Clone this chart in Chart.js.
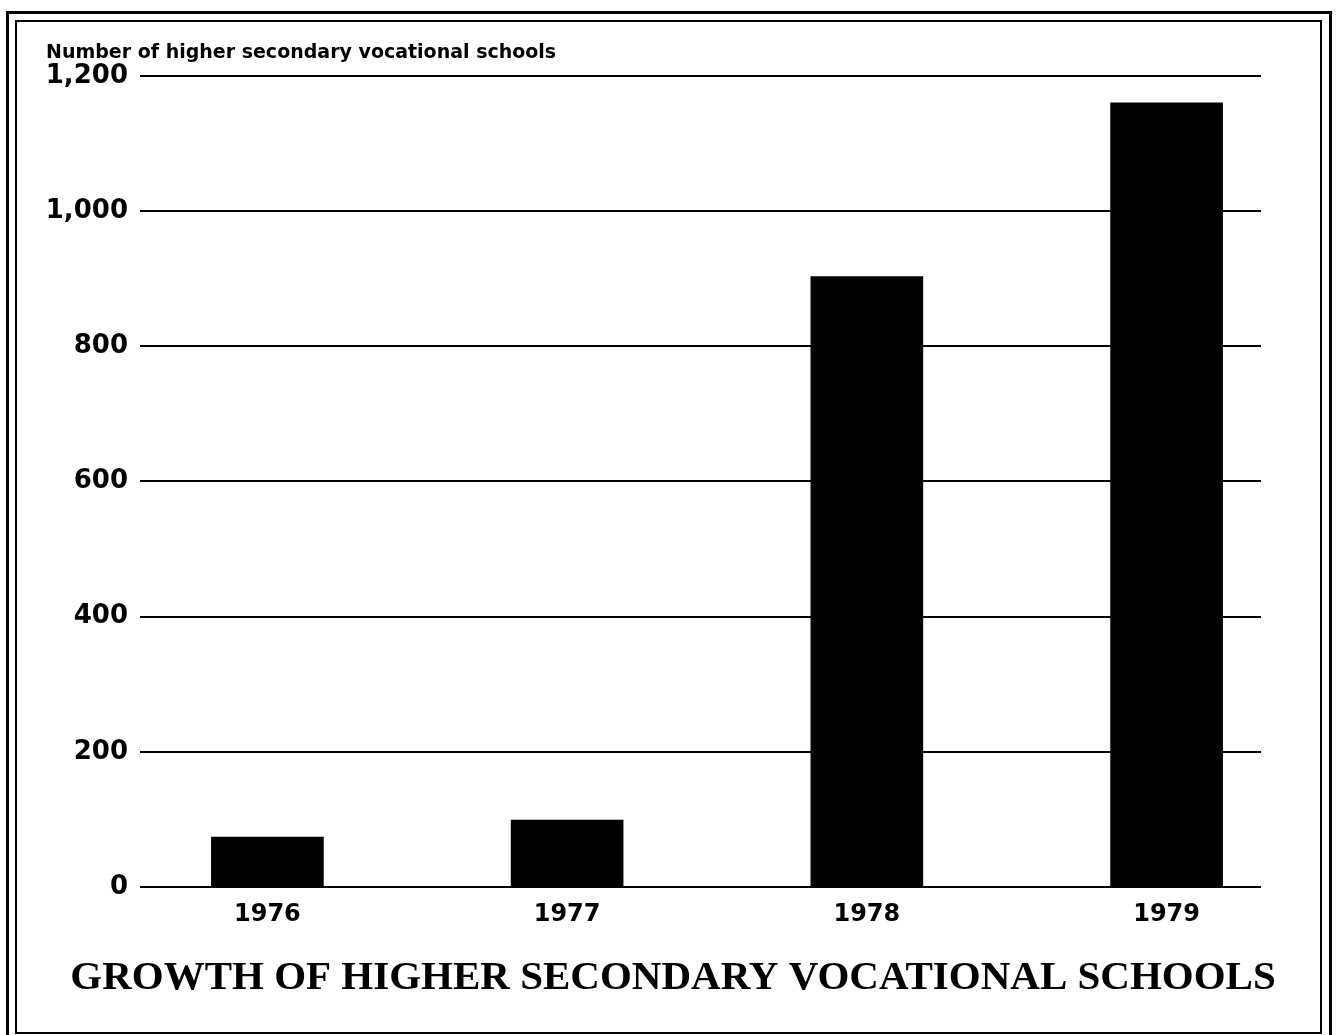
<!DOCTYPE html>
<html>
<head>
<meta charset="utf-8">
<script src="https://cdn.jsdelivr.net/npm/chart.js@4.4.1/dist/chart.umd.min.js"></script>
<style>
    html, body { margin: 0; padding: 0; background: #fff; }
    #wrap { position: relative; width: 1336px; height: 1035px; overflow: hidden; }
    .frame { position: absolute; border-style: solid; border-color: #000; box-sizing: border-box; }
    #outer { left: 6px; top: 11px; width: 1326px; height: 1040px; border-width: 3px; }
    #inner { left: 15px; top: 20px; width: 1307px; height: 1014px; border-width: 2px; }
    canvas { position: absolute; left: 0; top: 0; }
</style>
</head>
<body>
<div id="wrap">
    <div class="frame" id="outer"></div>
    <div class="frame" id="inner"></div>
    <canvas id="schoolsChart" width="1336" height="1035"></canvas>
</div>
<script>
// data
const years = [1976, 1977, 1978, 1979];
const schools = [74, 99, 903, 1160];
const yTicks = [0, 200, 400, 600, 800, 1000, 1200];

const axisLabel = "Number of higher secondary vocational schools";
const chartTitle = "GROWTH OF HIGHER SECONDARY VOCATIONAL SCHOOLS";

document.addEventListener("DOMContentLoaded", function () {
    let ctx = document.getElementById("schoolsChart").getContext("2d");

    new Chart(ctx, {
        type: "bar",
        data: {
            datasets: [{
                label: "Schools",
                data: years.map((yr, i) => ({ x: yr, y: schools[i] })),
                backgroundColor: "#000",
                borderWidth: 0,
                barThickness: 112
            }]
        },
        options: {
            responsive: false,
            animation: false,
            layout: {
                padding: { left: 46, right: 36, top: 20, bottom: 20 }
            },
            plugins: {
                legend: { display: false },
                tooltip: { enabled: false },
                subtitle: {
                    display: true,
                    text: axisLabel,
                    position: "top",
                    align: "start",
                    color: "#000",
                    font: { family: "DejaVu Sans", size: 19, weight: "bold" },
                    padding: { top: 22, bottom: 11 }
                },
                title: {
                    display: true,
                    text: chartTitle,
                    position: "bottom",
                    align: "center",
                    color: "#000",
                    font: { family: "Liberation Serif", size: 41, weight: "bold" },
                    padding: { top: 12, bottom: 12 }
                }
            },
            scales: {
                x: {
                    type: "linear",
                    offset: false,
                    min: 1975.575,
                    max: 1979.315,
                    grid: { display: false, drawTicks: false },
                    border: { display: false },
                    ticks: {
                        stepSize: 1,
                        includeBounds: false,
                        maxRotation: 0,
                        padding: 13,
                        color: "#000",
                        font: { family: "DejaVu Sans", size: 24, weight: "bold" },
                        callback: v => String(v)
                    }
                },
                y: {
                    min: 0,
                    max: yTicks[yTicks.length - 1],
                    afterFit: scale => { scale.width = 94; },
                    afterBuildTicks: scale => {
                        scale.ticks = yTicks.map(v => ({ value: v }));
                    },
                    grid: {
                        color: "#000",
                        lineWidth: 2,
                        drawTicks: false
                    },
                    border: { display: false },
                    ticks: {
                        padding: 12,
                        color: "#000",
                        font: { family: "DejaVu Sans", size: 26, weight: "bold" }
                    }
                },
                yRight: {
                    position: "right",
                    afterFit: scale => { scale.width = 39; },
                    grid: { display: false },
                    border: { display: false },
                    ticks: { display: false }
                }
            }
        }
    });
});
</script>
</body>
</html>
